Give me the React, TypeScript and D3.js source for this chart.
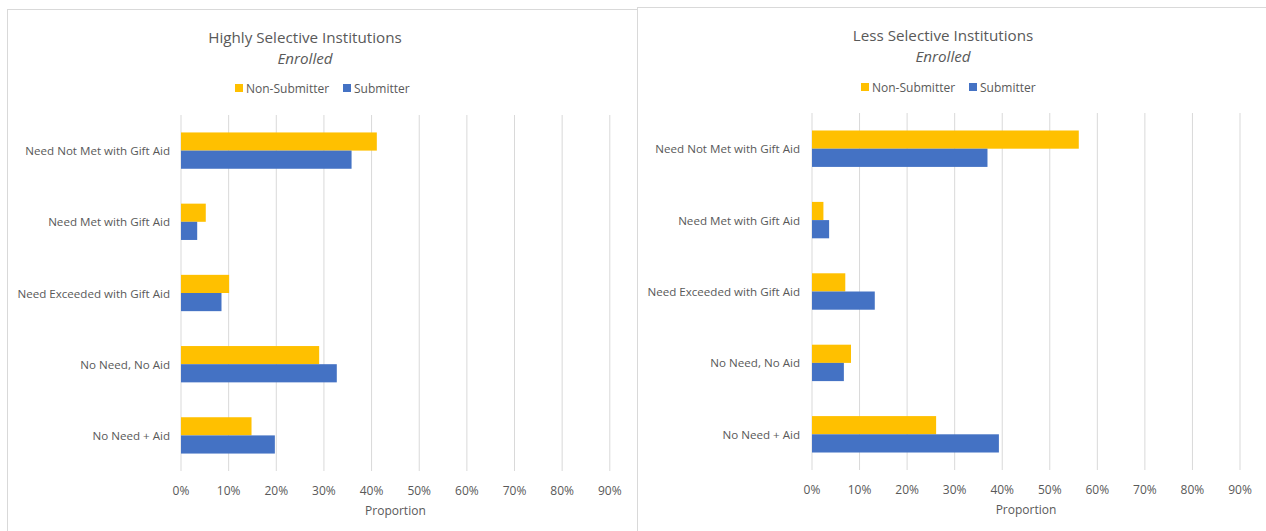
import React from "react";
import * as d3 from "d3";

const categories = [
  "Need Not Met with Gift Aid",
  "Need Met with Gift Aid",
  "Need Exceeded with Gift Aid",
  "No Need, No Aid",
  "No Need + Aid",
];
const seriesNames = ["Non-Submitter", "Submitter"];
const highNonSubmitter = [0.411, 0.052, 0.101, 0.29, 0.148];
const highSubmitter = [0.358, 0.034, 0.085, 0.327, 0.197];
const lessNonSubmitter = [0.561, 0.024, 0.07, 0.082, 0.261];
const lessSubmitter = [0.369, 0.036, 0.132, 0.067, 0.393];
const ticks = [0, 0.1, 0.2, 0.3, 0.4, 0.5, 0.6, 0.7, 0.8, 0.9];

const COLORS = ["#FFC000", "#4472C4"];
const TEXT = "#595959";
const GRID = "#D9D9D9";
const FONT = "'Open Sans', 'Liberation Sans', sans-serif";

type PanelProps = {
  title: string;
  nonSub: number[];
  sub: number[];
  x0: number;
  x1: number;
  y0: number;
  y1: number;
  titleX: number;
  titleY: number;
  legendX: number;
  legendY: number;
  labelX: number;
};

function Panel(p: PanelProps) {
  const x = d3.scaleLinear().domain([0, 0.9]).range([p.x0, p.x1]);
  const y = d3.scaleBand<string>().domain(categories).range([p.y0, p.y1]).paddingInner(0.49).paddingOuter(0.245);
  const inner = d3.scaleBand<string>().domain(seriesNames).range([0, y.bandwidth()]);
  const series = [p.nonSub, p.sub];
  const fmt = d3.format(".0%");
  return (
    <g>
      {ticks.map((t) => (
        <line key={"g" + t} x1={x(t)} x2={x(t)} y1={p.y0} y2={p.y1} stroke={GRID} strokeWidth={1} />
      ))}
      {categories.map((c, i) => (
        <g key={c}>
          {series.map((s, j) => (
            <rect
              key={j}
              x={x(0)}
              y={(y(c) as number) + (inner(seriesNames[j]) as number)}
              width={x(s[i]) - x(0)}
              height={inner.bandwidth()}
              fill={COLORS[j]}
            />
          ))}
          <text
            x={p.labelX}
            y={(y(c) as number) + y.bandwidth() / 2}
            textAnchor="end"
            dominantBaseline="central"
            fontSize={11.6}
            fill={TEXT}
          >
            {c}
          </text>
        </g>
      ))}
      {ticks.map((t) => (
        <text key={"t" + t} x={x(t)} y={p.y1 + 19} textAnchor="middle" dominantBaseline="central" fontSize={12} fill={TEXT}>
          {fmt(t)}
        </text>
      ))}
      <text x={(p.x0 + p.x1) / 2} y={p.y1 + 39} textAnchor="middle" dominantBaseline="central" fontSize={12} fill={TEXT}>
        Proportion
      </text>
      <text x={p.titleX} y={p.titleY} textAnchor="middle" dominantBaseline="central" fontSize={15.2} fill={TEXT}>
        {p.title}
      </text>
      <text x={p.titleX} y={p.titleY + 21} textAnchor="middle" dominantBaseline="central" fontSize={15.2} fontStyle="italic" fill={TEXT}>
        Enrolled
      </text>
      <g>
        <rect x={p.legendX} y={p.legendY - 4} width={8} height={8} fill={COLORS[0]} />
        <text x={p.legendX + 11} y={p.legendY} dominantBaseline="central" fontSize={12} fill={TEXT}>
          {seriesNames[0]}
        </text>
        <rect x={p.legendX + 108} y={p.legendY - 4} width={8} height={8} fill={COLORS[1]} />
        <text x={p.legendX + 119} y={p.legendY} dominantBaseline="central" fontSize={12} fill={TEXT}>
          {seriesNames[1]}
        </text>
      </g>
    </g>
  );
}

export default function App() {
  return (
    <svg
      width={1266}
      height={531}
      style={{ position: "absolute", left: 0, top: 0, background: "#fff" }}
      fontFamily={FONT}
    >
      <rect x={0} y={0} width={1266} height={531} fill="#fff" />
      <rect x={7.5} y={9.5} width={630} height={540} fill="#fff" stroke={GRID} strokeWidth={1} />
      <rect x={637.5} y={7.5} width={640} height={540} fill="#fff" stroke={GRID} strokeWidth={1} />
      <Panel
        title="Highly Selective Institutions"
        nonSub={highNonSubmitter}
        sub={highSubmitter}
        x0={181}
        x1={609.8}
        y0={115}
        y1={471}
        titleX={305}
        titleY={37}
        legendX={235}
        legendY={88}
        labelX={170}
      />
      <Panel
        title="Less Selective Institutions"
        nonSub={lessNonSubmitter}
        sub={lessSubmitter}
        x0={812}
        x1={1240}
        y0={113}
        y1={470}
        titleX={943}
        titleY={35}
        legendX={861}
        legendY={87}
        labelX={800}
      />
    </svg>
  );
}
